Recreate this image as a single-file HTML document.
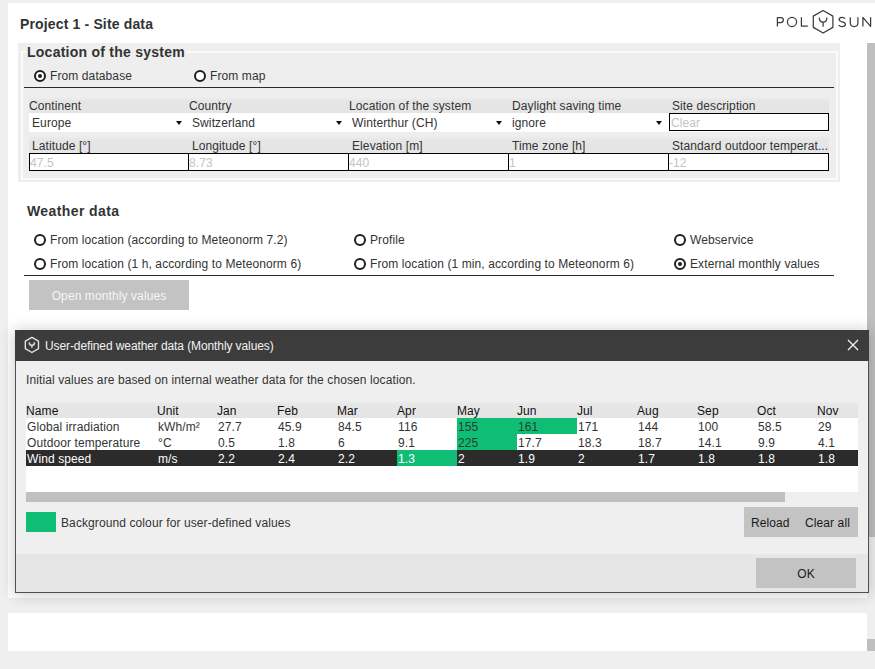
<!DOCTYPE html>
<html><head><meta charset="utf-8">
<style>
*{box-sizing:border-box;margin:0;padding:0}
html,body{width:875px;height:669px;overflow:hidden;background:#efefef;font-family:"Liberation Sans",sans-serif;font-size:12px;color:#333;letter-spacing:0.1px}
.a{position:absolute;white-space:nowrap}
#panel{position:absolute;left:8px;top:3px;width:859px;height:595px;background:#fff}
#strip{position:absolute;left:8px;top:613px;width:859px;height:38px;background:#fff}
#vsb{position:absolute;left:867px;top:43px;width:8px;height:494px;background:#bfbfbf}
#vsb2{position:absolute;left:867px;top:639px;width:8px;height:12px;background:#bfbfbf}
.title{font-weight:bold;font-size:14px;color:#333;letter-spacing:0.15px}
.radio{position:absolute;width:12px;height:12px;border:2px solid #1e1e1e;border-radius:50%;background:#fff}
.radio.on::after{content:"";position:absolute;left:2px;top:2px;width:4px;height:4px;background:#1e1e1e;border-radius:50%}
#fs{position:absolute;left:18px;top:43px;width:822px;height:139px;background:#eeeeee}
#fsline{position:absolute;left:21px;top:51px;width:817px;height:129px;border:2px solid #fbfbfb}
.band{position:absolute;background:linear-gradient(rgba(230,230,230,0),#e6e6e6 4px,#e4e4e4)}
.white{position:absolute;background:#fff}
.inp{position:absolute;background:#fff;border:1px solid #000}
.ph{color:#c4c4c4}
.tri{position:absolute;width:0;height:0;border-left:3px solid transparent;border-right:3px solid transparent;border-top:4px solid #111}
.hline{position:absolute;height:1px;background:#2b2b2b}
.btn{position:absolute;background:#c3c3c3;text-align:center}
#dlg{position:absolute;left:15px;top:330px;width:854px;height:263px;background:#efefef;border:1px solid #505050;border-top:none;box-shadow:0 1px 14px 1px rgba(0,0,0,0.2)}
#tbar{position:absolute;left:15px;top:330px;width:854px;height:31px;background:#3c3c3c}
.g{background:#10bd75}
</style></head><body>
<div id="panel"></div>
<div id="strip"></div>
<div class="a" style="left:867px;top:3px;width:8px;height:40px;background:#fff"></div>
<div id="vsb"></div>
<div id="vsb2"></div>

<!-- header -->
<div class="a title" style="left:20px;top:16px">Project 1 - Site data</div>
<svg class="a" style="left:0;top:0" width="875" height="40" viewBox="0 0 875 40">
<g fill="none" stroke="#3c3c3c" stroke-width="1.25" stroke-linejoin="round">
<path d="M777.4,26.6 V17.6 H780.9 A2.45,2.45 0 0 1 780.9,22.5 H777.4"/>
<circle cx="792" cy="21.9" r="4.6"/>
<path d="M801.4,17.2 V26 H807.8"/>
<polygon points="823.1,10.5 832.9,16.1 832.9,27.4 823.1,33 813.3,27.4 813.3,16.1"/>
<path d="M819.3,17.6 Q819.3,22.2 823.1,22.2 Q826.9,22.2 826.9,17.6 M823.1,22.2 V26.7"/>
<path d="M845.1,18.7 C844.4,17.7 843.3,17.3 842.1,17.3 C840.2,17.3 839.1,18.3 839.1,19.6 C839.1,22.6 845.4,21.1 845.4,24.3 C845.4,25.7 844.1,26.6 842.2,26.6 C840.7,26.6 839.4,26 838.7,25"/>
<path d="M850.3,17.2 V23.1 C850.3,25.4 851.8,26.6 854.2,26.6 C856.5,26.6 857.9,25.4 857.9,23.1 V17.2"/>
<path d="M862.9,26.6 V17.4 L870.6,26.4 V17.2"/>
</g></svg>

<!-- Location fieldset -->
<div id="fs"></div>
<div id="fsline"></div>
<div class="a title" style="letter-spacing:0.25px;left:26px;top:44px;padding:0 1px;background:#eeeeee">Location of the system</div>
<div class="radio on" style="left:34px;top:70px"></div>
<div class="a" style="left:50px;top:69px">From database</div>
<div class="radio" style="left:194px;top:70px"></div>
<div class="a" style="left:210px;top:69px">From map</div>
<div class="hline" style="left:24px;top:87px;width:810px"></div>

<div class="band" style="left:29px;top:97px;width:800px;height:16px"></div>
<div class="white" style="left:29px;top:113px;width:800px;height:19px"></div>
<div class="band" style="left:29px;top:136px;width:800px;height:17px"></div>
<div class="a" style="left:29px;top:99px">Continent</div>
<div class="a" style="left:189px;top:99px">Country</div>
<div class="a" style="left:349px;top:99px">Location of the system</div>
<div class="a" style="left:512px;top:99px">Daylight saving time</div>
<div class="a" style="left:672px;top:99px">Site description</div>
<div class="a" style="left:32px;top:116px">Europe</div>
<div class="tri" style="left:176px;top:121px"></div>
<div class="a" style="left:192px;top:116px">Switzerland</div>
<div class="tri" style="left:336px;top:121px"></div>
<div class="a" style="left:352px;top:116px">Winterthur (CH)</div>
<div class="tri" style="left:496px;top:121px"></div>
<div class="a" style="left:512px;top:116px">ignore</div>
<div class="tri" style="left:656px;top:121px"></div>
<div class="inp" style="left:669px;top:113px;width:160px;height:18px"></div>
<div class="a ph" style="left:671px;top:116px">Clear</div>

<div class="a" style="left:32px;top:139px">Latitude [°]</div>
<div class="a" style="left:192px;top:139px">Longitude [°]</div>
<div class="a" style="left:352px;top:139px">Elevation [m]</div>
<div class="a" style="left:512px;top:139px">Time zone [h]</div>
<div class="a" style="left:672px;top:139px">Standard outdoor temperat...</div>
<div class="inp" style="left:29px;top:153px;width:800px;height:18px"></div>
<div class="a" style="left:188px;top:153px;width:1px;height:18px;background:#000"></div>
<div class="a" style="left:348px;top:153px;width:1px;height:18px;background:#000"></div>
<div class="a" style="left:508px;top:153px;width:1px;height:18px;background:#000"></div>
<div class="a" style="left:668px;top:153px;width:1px;height:18px;background:#000"></div>
<div class="a ph" style="left:30px;top:156px">47.5</div>
<div class="a ph" style="left:189px;top:156px">8.73</div>
<div class="a ph" style="left:349px;top:156px">440</div>
<div class="a ph" style="left:509px;top:156px">1</div>
<div class="a ph" style="left:669px;top:156px">-12</div>

<!-- Weather data -->
<div class="a title" style="letter-spacing:0.4px;left:27px;top:203px">Weather data</div>
<div class="radio" style="left:34px;top:234px"></div>
<div class="a" style="left:50px;top:233px">From location (according to Meteonorm 7.2)</div>
<div class="radio" style="left:34px;top:258px"></div>
<div class="a" style="left:50px;top:257px">From location (1 h, according to Meteonorm 6)</div>
<div class="radio" style="left:354px;top:234px"></div>
<div class="a" style="left:370px;top:233px">Profile</div>
<div class="radio" style="left:354px;top:258px"></div>
<div class="a" style="left:370px;top:257px">From location (1 min, according to Meteonorm 6)</div>
<div class="radio" style="left:674px;top:234px"></div>
<div class="a" style="left:690px;top:233px">Webservice</div>
<div class="radio on" style="left:674px;top:258px"></div>
<div class="a" style="left:690px;top:257px">External monthly values</div>
<div class="hline" style="left:24px;top:275px;width:810px"></div>
<div class="btn" style="left:29px;top:280px;width:160px;height:30px;line-height:32px;color:#f5f5f5">Open monthly values</div>

<!-- Dialog -->
<div id="dlg"></div>
<div id="tbar"></div>
<!-- Dialog content -->
<svg class="a" style="left:24px;top:336px" width="16" height="18" viewBox="0 0 16 18">
<polygon points="7.9,1.3 14.5,5.1 14.5,12.7 7.9,16.5 1.3,12.7 1.3,5.1" fill="none" stroke="#e4e4e4" stroke-width="1.35" stroke-linejoin="round"/>
<path d="M5.3,6.3 Q5.3,9.4 7.9,9.4 Q10.5,9.4 10.5,6.3 M7.9,9.4 V11.7" fill="none" stroke="#d4d4d4" stroke-width="1.6"/>
</svg>
<div class="a" style="left:45px;top:339px;color:#f2f2f2;letter-spacing:-0.1px">User-defined weather data (Monthly values)</div>
<svg class="a" style="left:847px;top:339px" width="12" height="12" viewBox="0 0 12 12"><path d="M1,1 L11,11 M11,1 L1,11" stroke="#f0f0f0" stroke-width="1.4"/></svg>
<div class="a" style="left:26px;top:373px">Initial values are based on internal weather data for the chosen location.</div>
<div class="band" style="left:26px;top:401px;width:832px;height:17px"></div>
<div class="white" style="left:26px;top:418px;width:832px;height:74px"></div>
<div class="a" style="left:26px;top:450px;width:832px;height:16px;background:#2b2b2b"></div>
<div class="a" style="left:26px;top:492px;width:759px;height:10px;background:#c0c0c0"></div>

<div class="a" style="left:26px;top:404px;color:#111">Name</div>
<div class="a" style="left:157px;top:404px;color:#111">Unit</div>
<div class="a" style="left:217px;top:404px;color:#111">Jan</div>
<div class="a" style="left:277px;top:404px;color:#111">Feb</div>
<div class="a" style="left:337px;top:404px;color:#111">Mar</div>
<div class="a" style="left:397px;top:404px;color:#111">Apr</div>
<div class="a" style="left:457px;top:404px;color:#111">May</div>
<div class="a" style="left:517px;top:404px;color:#111">Jun</div>
<div class="a" style="left:577px;top:404px;color:#111">Jul</div>
<div class="a" style="left:637px;top:404px;color:#111">Aug</div>
<div class="a" style="left:697px;top:404px;color:#111">Sep</div>
<div class="a" style="left:757px;top:404px;color:#111">Oct</div>
<div class="a" style="left:817px;top:404px;color:#111">Nov</div>
<div class="a g" style="left:397px;top:450px;width:60px;height:16px"></div>
<div class="a g" style="left:457px;top:418px;width:60px;height:16px"></div>
<div class="a g" style="left:457px;top:434px;width:60px;height:16px"></div>
<div class="a g" style="left:517px;top:418px;width:60px;height:16px"></div>
<div class="a" style="left:27px;top:420px;color:#333">Global irradiation</div>
<div class="a" style="left:158px;top:420px;color:#333">kWh/m²</div>
<div class="a" style="left:218px;top:420px;color:#333">27.7</div>
<div class="a" style="left:278px;top:420px;color:#333">45.9</div>
<div class="a" style="left:338px;top:420px;color:#333">84.5</div>
<div class="a" style="left:398px;top:420px;color:#333">116</div>
<div class="a" style="left:458px;top:420px;color:#263d31">155</div>
<div class="a" style="left:518px;top:420px;color:#263d31">161</div>
<div class="a" style="left:578px;top:420px;color:#333">171</div>
<div class="a" style="left:638px;top:420px;color:#333">144</div>
<div class="a" style="left:698px;top:420px;color:#333">100</div>
<div class="a" style="left:758px;top:420px;color:#333">58.5</div>
<div class="a" style="left:818px;top:420px;color:#333">29</div>
<div class="a" style="left:27px;top:436px;color:#333">Outdoor temperature</div>
<div class="a" style="left:158px;top:436px;color:#333">°C</div>
<div class="a" style="left:218px;top:436px;color:#333">0.5</div>
<div class="a" style="left:278px;top:436px;color:#333">1.8</div>
<div class="a" style="left:338px;top:436px;color:#333">6</div>
<div class="a" style="left:398px;top:436px;color:#333">9.1</div>
<div class="a" style="left:458px;top:436px;color:#263d31">225</div>
<div class="a" style="left:518px;top:436px;color:#333">17.7</div>
<div class="a" style="left:578px;top:436px;color:#333">18.3</div>
<div class="a" style="left:638px;top:436px;color:#333">18.7</div>
<div class="a" style="left:698px;top:436px;color:#333">14.1</div>
<div class="a" style="left:758px;top:436px;color:#333">9.9</div>
<div class="a" style="left:818px;top:436px;color:#333">4.1</div>
<div class="a" style="left:27px;top:452px;color:#fff">Wind speed</div>
<div class="a" style="left:158px;top:452px;color:#fff">m/s</div>
<div class="a" style="left:218px;top:452px;color:#fff">2.2</div>
<div class="a" style="left:278px;top:452px;color:#fff">2.4</div>
<div class="a" style="left:338px;top:452px;color:#fff">2.2</div>
<div class="a" style="left:398px;top:452px;color:#fff">1.3</div>
<div class="a" style="left:458px;top:452px;color:#fff">2</div>
<div class="a" style="left:518px;top:452px;color:#fff">1.9</div>
<div class="a" style="left:578px;top:452px;color:#fff">2</div>
<div class="a" style="left:638px;top:452px;color:#fff">1.7</div>
<div class="a" style="left:698px;top:452px;color:#fff">1.8</div>
<div class="a" style="left:758px;top:452px;color:#fff">1.8</div>
<div class="a" style="left:818px;top:452px;color:#fff">1.8</div>
<div class="a g" style="left:26px;top:512px;width:30px;height:20px"></div>
<div class="a" style="left:61px;top:516px">Background colour for user-defined values</div>
<div class="btn" style="left:744px;top:507px;width:114px;height:30px"></div>
<div class="a" style="left:751px;top:516px;color:#1a1a1a">Reload</div>
<div class="a" style="left:805px;top:516px;color:#1a1a1a">Clear all</div>
<div class="a" style="left:16px;top:554px;width:852px;height:38px;background:#e6e6e6"></div>
<div class="btn" style="left:756px;top:558px;width:100px;height:30px;line-height:32px;color:#1a1a1a">OK</div>

</body></html>
